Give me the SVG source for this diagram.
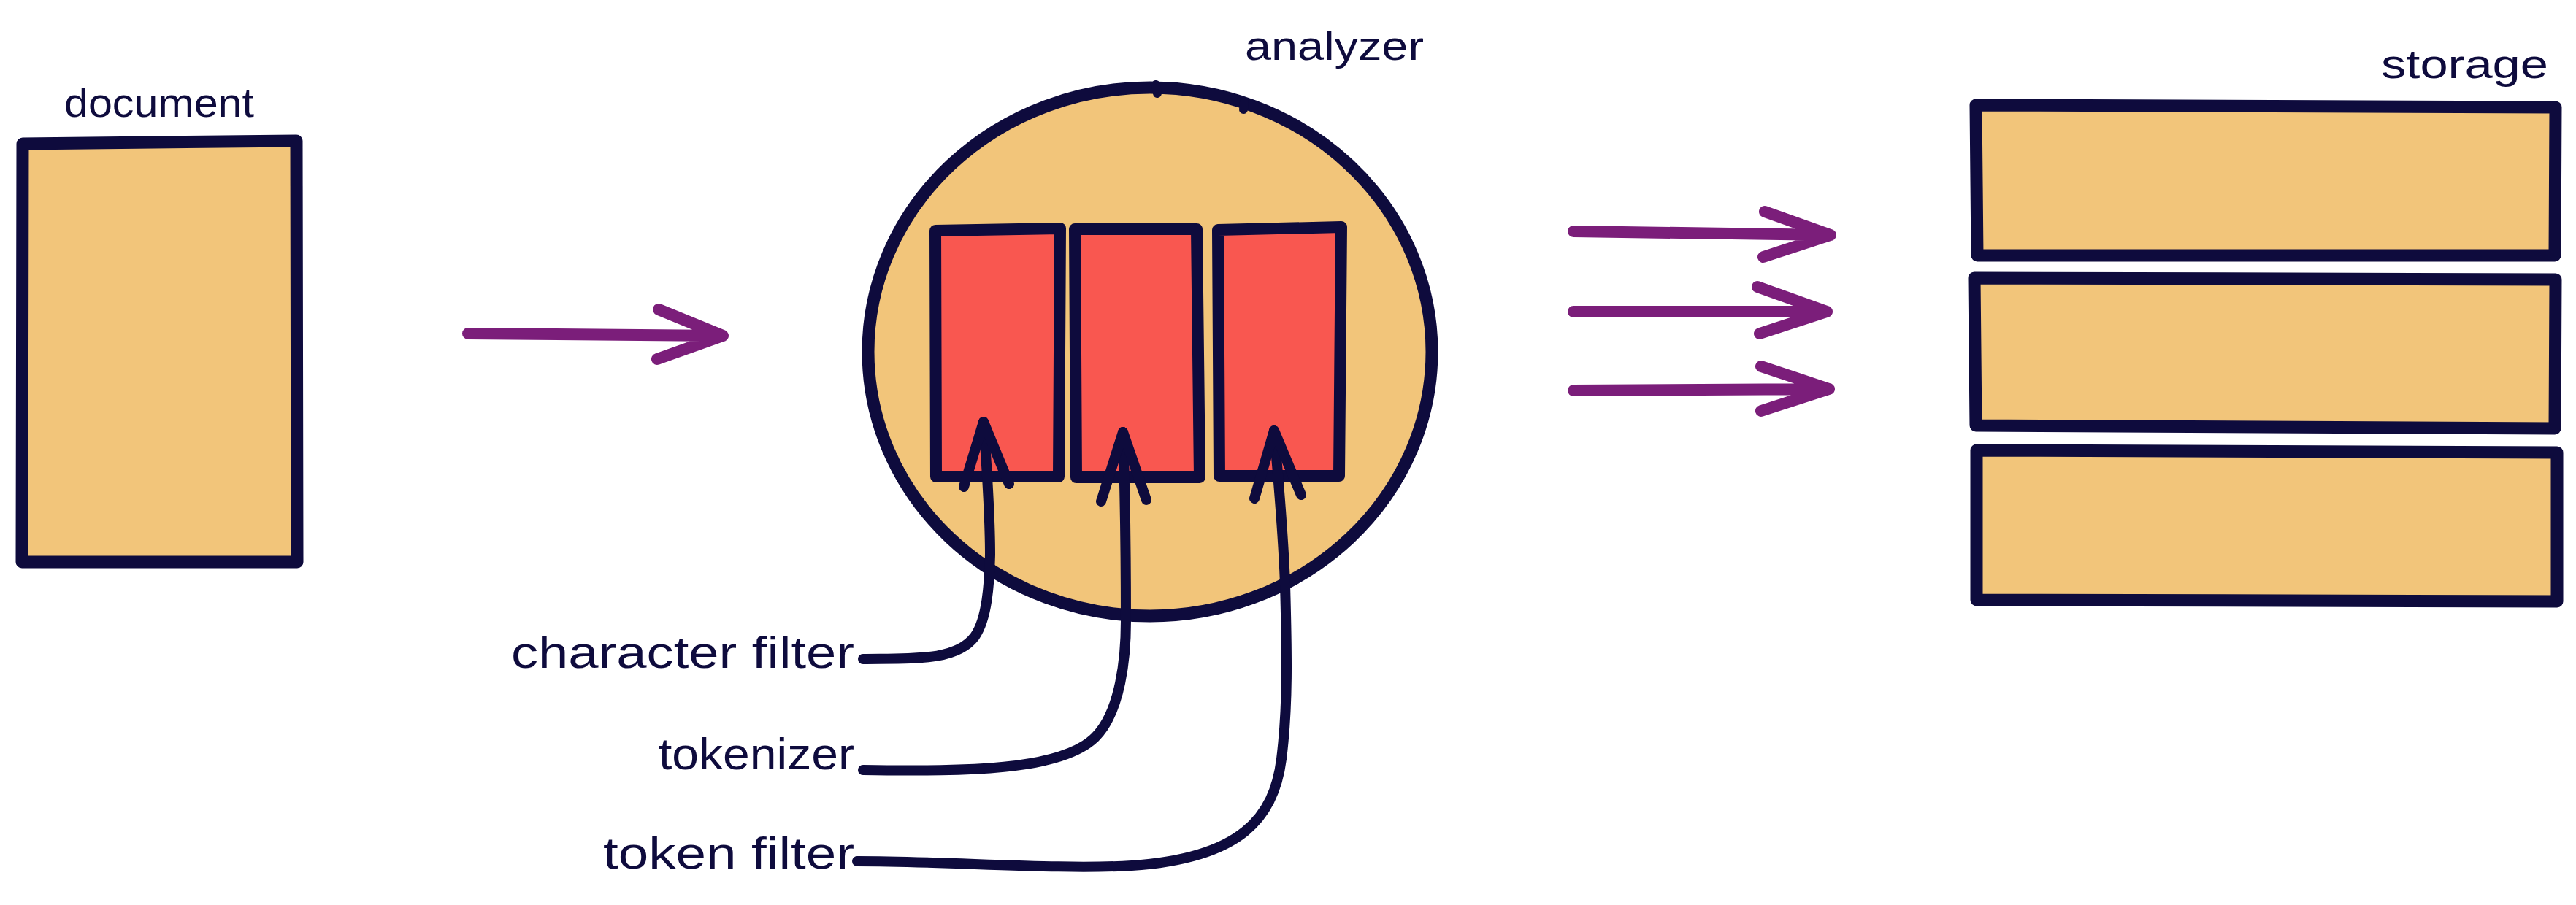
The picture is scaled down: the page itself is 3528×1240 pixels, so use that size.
<svg xmlns="http://www.w3.org/2000/svg" width="3528" height="1240" viewBox="0 0 3528 1240">
<style>
.box{fill:#f2c57a;stroke:#0e0b3d;stroke-width:17;stroke-linejoin:round;stroke-linecap:round}
.red{fill:#f95750;stroke:#0e0b3d;stroke-width:16;stroke-linejoin:round;stroke-linecap:round}
.lbl{font-family:"Liberation Sans",Arial,sans-serif;fill:#0e0b3d}
.conn{fill:none;stroke:#0e0b3d;stroke-width:14;stroke-linecap:round;stroke-linejoin:round}
.flow{fill:none;stroke:#7b1e7a;stroke-width:16;stroke-linecap:round;stroke-linejoin:round}
.nub{fill:none;stroke:#0e0b3d;stroke-width:12;stroke-linecap:round}
</style>
<rect width="3528" height="1240" fill="#ffffff"/>
<g id="document">
<path class="box" d="M31,197 L406,193 L407,770 L30,770 Z"/>
<text class="lbl" x="88" y="160" font-size="56" textLength="260" lengthAdjust="spacingAndGlyphs">document</text>
</g>
<g id="analyzer">
<ellipse class="box" cx="1575" cy="482" rx="386" ry="362" stroke-width="15"/>
<path class="nub" d="M1583,116 L1585,128 M1704,140 L1703,150"/>
<text class="lbl" x="1705" y="82" font-size="56" textLength="245" lengthAdjust="spacingAndGlyphs">analyzer</text>
</g>
<g id="character-filter-box">
<path class="red" d="M1281,316 L1452,313 L1450,653 L1282,653 Z"/>
</g>
<g id="tokenizer-box">
<path class="red" d="M1472,314 L1639,314 L1643,654 L1474,654 Z"/>
</g>
<g id="token-filter-box">
<path class="red" d="M1668,315 L1837,311 L1834,652 L1670,652 Z"/>
</g>
<g id="storage">
<path class="box" d="M2706,144 L3500,147 L3499,350 L2708,350 Z"/>
<path class="box" d="M2704,381 L3500,383 L3499,587 L2706,583 Z"/>
<path class="box" d="M2707,617 L3502,620 L3502,824 L2707,822 Z"/>
<text class="lbl" x="3261" y="107" font-size="56" textLength="229" lengthAdjust="spacingAndGlyphs">storage</text>
</g>
<g id="label-character-filter">
<text class="lbl" x="700" y="915" font-size="62" textLength="470" lengthAdjust="spacingAndGlyphs">character filter</text>
</g>
<g id="label-tokenizer">
<text class="lbl" x="902" y="1054" font-size="62" textLength="268" lengthAdjust="spacingAndGlyphs">tokenizer</text>
</g>
<g id="label-token-filter">
<text class="lbl" x="826" y="1190" font-size="62" textLength="344" lengthAdjust="spacingAndGlyphs">token filter</text>
</g>
<g id="connectors">
<path class="flow" d="M641,457 L990,460 M902,424 L990,460 L900,492"/>
<path class="flow" d="M2155,317 L2507,322 M2417,290 L2507,322 L2415,352"/>
<path class="flow" d="M2155,427 L2502,427 M2407,393 L2502,427 L2410,457"/>
<path class="flow" d="M2155,535 L2505,533 M2412,502 L2505,533 L2412,563"/>
<path class="conn" d="M1182,903 C1250,902 1310,906 1335,872 C1352,848 1355,800 1356,760 C1356,700 1350,620 1347,578"/>
<path class="conn" d="M1320,667 L1347,578 L1382,663"/>
<path class="conn" d="M1182,1055 C1300,1056 1450,1060 1500,1010 C1535,975 1542,900 1542,850 C1542,760 1540,650 1538,592"/>
<path class="conn" d="M1508,687 L1538,592 L1570,685"/>
<path class="conn" d="M1174,1180 C1300,1180 1450,1192 1550,1186 C1700,1176 1745,1120 1755,1040 C1765,960 1762,880 1760,800 C1757,720 1750,650 1745,590"/>
<path class="conn" d="M1718,683 L1745,590 L1782,678"/>
</g>
</svg>
